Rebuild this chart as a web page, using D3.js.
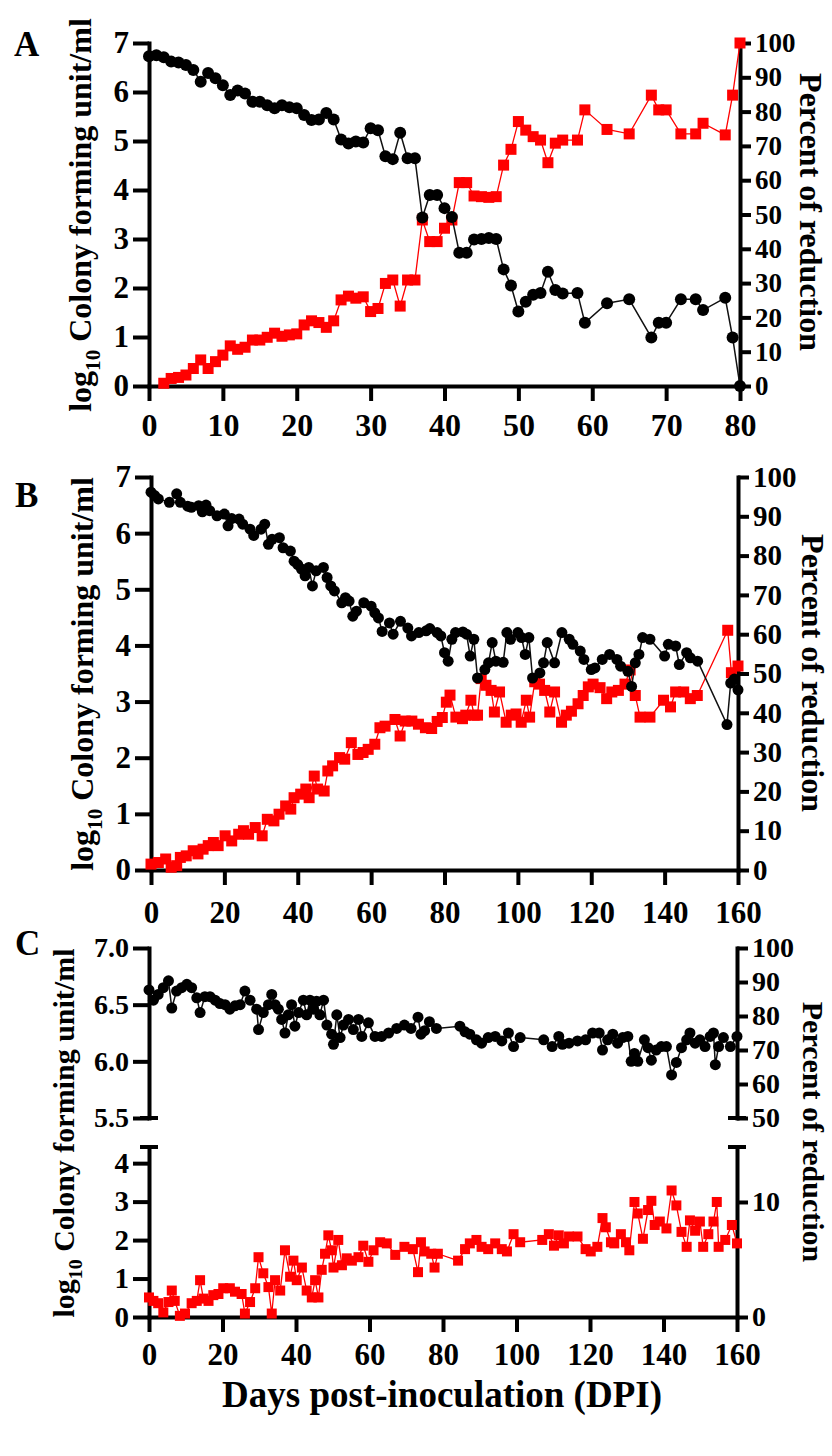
<!DOCTYPE html>
<html>
<head>
<meta charset="utf-8">
<script src="https://cdn.jsdelivr.net/npm/d3@7"></script>
<style>
  body { margin: 0; background: #fff; }
  svg text { font-family: "Liberation Serif", "Times New Roman", serif; font-weight: bold; fill: #000; }
</style>
</head>
<body>
<svg id="fig" width="832" height="1456"></svg>
<script>
// ---------- data: [day, value] ----------

// Panel A: log10 CFU/ml (left axis) and percent reduction (right axis)
const cfuA = [[0,6.73],[1,6.75],[2,6.71],[3,6.62],[4,6.60],[5,6.55],[6,6.45],[7,6.21],[8,6.39],[9,6.28],
  [10,6.14],[11,5.94],[12,6.03],[13,5.97],[14,5.80],[15,5.80],[16,5.73],[17,5.67],[18,5.73],[19,5.69],
  [20,5.67],[21,5.53],[22,5.43],[23,5.44],[24,5.57],[25,5.44],[26,5.03],[27,4.95],[28,4.99],[29,4.97],
  [30,5.26],[31,5.22],[32,4.69],[33,4.63],[34,5.17],[35,4.65],[36,4.65],[37,3.44],[38,3.90],[39,3.90],
  [40,3.63],[41,3.45],[42,2.72],[43,2.72],[44,2.99],[45,3.00],[46,3.02],[47,3.00],[48,2.38],[49,2.05],
  [50,1.52],[51,1.72],[52,1.86],[53,1.90],[54,2.33],[55,1.96],[56,1.89],[58,1.90],[59,1.29],[62,1.69],
  [65,1.77],[68,0.99],[69,1.29],[70,1.29],[72,1.77],[74,1.77],[75,1.55],[78,1.80],[79,0.99],[80,0]];

const redA = [[2,0.8],[3,2.2],[4,2.5],[5,3.2],[6,5.1],[7,7.6],[8,5.1],[9,7.1],
  [10,9.0],[11,11.7],[12,10.7],[13,11.3],[14,13.4],[15,13.4],[16,14.2],[17,15.4],[18,14.5],[19,14.9],
  [20,15.2],[21,17.8],[22,19.0],[23,18.5],[24,17.1],[25,19.0],[26,25.1],[27,26.2],[28,25.6],[29,26.0],
  [30,21.7],[31,22.6],[32,29.9],[33,30.9],[34,23.3],[35,30.9],[36,30.9],[37,48.4],[38,42.1],[39,42.1],
  [40,46.0],[41,48.4],[42,59.3],[43,59.3],[44,55.4],[45,55.2],[46,55.0],[47,55.2],[48,64.4],[49,69.0],
  [50,77.1],[51,74.6],[52,72.7],[53,71.7],[54,65.1],[55,70.8],[56,71.7],[58,71.7],[59,80.5],[62,74.8],
  [65,73.5],[68,84.8],[69,80.5],[70,80.5],[72,73.5],[74,73.5],[75,76.6],[78,73.2],[79,84.8],[80,100]];

// Panel B
const cfuB = [[0,6.73],[1,6.67],[2,6.61],[5,6.55],[7,6.70],[8,6.55],[10,6.48],[11,6.46],[13,6.49],[14,6.38],
  [15,6.50],[16,6.40],[18,6.31],[20,6.34],[21,6.13],[22,6.26],[24,6.25],[25,6.16],[27,6.07],[28,5.96],
  [30,6.07],[31,6.16],[32,5.80],[33,5.89],[35,5.92],[36,5.74],[38,5.68],[39,5.50],[40,5.44],[41,5.36],
  [42,5.24],[43,5.39],[44,5.06],[45,5.33],[47,5.39],[48,5.21],[49,5.06],[50,4.97],[52,4.76],[53,4.85],
  [54,4.79],[55,4.52],[56,4.61],[58,4.76],[60,4.70],[61,4.58],[62,4.49],[63,4.25],[65,4.40],[66,4.20],
  [68,4.43],[70,4.31],[71,4.17],[73,4.23],[75,4.26],[76,4.30],[78,4.23],[79,4.17],[80,3.87],[81,3.72],
  [82,4.11],[83,4.23],[85,4.24],[86,4.20],[87,3.81],[88,4.11],[89,3.42],[91,3.57],[92,3.69],[93,4.05],
  [94,3.72],[96,3.70],[97,4.23],[98,4.11],[100,4.23],[101,4.14],[102,3.84],[103,4.14],[104,3.42],[106,3.51],
  [107,3.69],[108,4.05],[110,3.69],[112,4.23],[114,4.11],[115,4.02],[117,3.90],[118,3.75],[120,3.57],[121,3.60],
  [123,3.75],[125,3.84],[127,3.75],[128,3.63],[130,3.54],[131,3.27],[132,3.69],[133,3.84],[134,4.14],[136,4.11],
  [140,3.81],[141,4.02],[143,3.99],[144,3.66],[146,3.87],[147,3.78],[149,3.72],[157,2.59],[158,3.33],[159,3.40],
  [160,3.21]];

const redB = [[0,1.5],[2,1.9],[4,2.8],[5.5,0.7],[7,1.1],[8,3.2],[9.6,3.6],[11.5,4.9],[12.8,4.1],[14.2,5.3],
  [15.6,6.2],[17,7.0],[18.3,6.2],[20.2,8.7],[22,7.4],[23.9,9.1],[25.2,10.0],[26.6,9.1],[28.4,10.8],[30.3,8.7],
  [31.7,12.9],[33.5,12.5],[34.9,14.2],[36.7,16.3],[38.1,15.5],[39,18.4],[40.8,19.3],[42.2,20.6],[43.1,18.4],[44.5,23.9],
  [45.4,20.6],[47.2,20.1],[48.2,25.2],[49.5,26.5],[51.4,28.6],[52.8,28.2],[54.6,32.4],[56.4,29.4],[57.8,29.9],[59.2,30.7],
  [61,32.0],[62.4,36.2],[63.8,36.6],[66.5,38.3],[67.9,34.1],[69.3,37.9],[71.1,37.9],[72.9,37.1],[74.8,36.2],[76.5,36.0],
  [78,37.8],[79.4,38.8],[80.5,42.7],[81.5,44.5],[83.1,38.9],[84.9,38.5],[85.8,39.4],[87.2,43.2],[88.1,39.4],[89,39.4],
  [90,48.7],[91.3,47.0],[92.7,45.7],[93.6,40.2],[95,45.3],[96.8,37.6],[98.2,39.4],[99.5,39.7],[100.9,37.6],[102.3,43.2],
  [103.2,38.9],[104.6,47.9],[105.9,47.3],[107.3,45.7],[108.7,40.2],[110,45.3],[111.9,37.6],[113.2,39.4],[114.6,40.4],[116.4,42.3],
  [117.8,44.4],[119.2,46.6],[120.5,47.3],[122.4,46.4],[124.2,43.6],[125.6,45.3],[127.4,45.7],[129.2,47.3],[130.6,50.9],[132,44.4],
  [133.3,38.9],[136,38.9],[139.7,43.2],[141.6,41.5],[143,45.3],[145.2,45.3],[147,43.6],[148.9,44.4],[157.2,61.0],[158.2,50.2],
  [160,51.9]];

// Panel C (broken axes)
const cfuC = [[0,6.63],[1.2,6.54],[2.5,6.59],[3.9,6.65],[5.3,6.71],[6.2,6.47],[7.5,6.62],[8.9,6.65],[10.3,6.68],[11.6,6.65],
  [13,6.56],[13.9,6.43],[15.2,6.57],[16.6,6.57],[18,6.54],[19.3,6.51],[20.7,6.50],[22,6.46],[23.4,6.49],[24.8,6.50],
  [26.1,6.62],[27.5,6.54],[29.3,6.46],[29.8,6.28],[31.1,6.43],[32.5,6.50],[33.4,6.59],[34.3,6.50],[35.2,6.46],[36.1,6.37],
  [37,6.25],[37.9,6.41],[38.8,6.50],[39.7,6.31],[40.7,6.43],[42,6.54],[42.9,6.41],[43.8,6.54],[44.7,6.46],[45.6,6.53],
  [46.5,6.41],[47.5,6.54],[48.4,6.32],[49.7,6.24],[50.2,6.15],[51.1,6.41],[52,6.21],[52.9,6.32],[54.3,6.37],[55.6,6.28],
  [57,6.37],[57.9,6.22],[59.7,6.34],[61.5,6.22],[63.3,6.22],[65.2,6.25],[67.4,6.29],[69.5,6.32],[71.3,6.29],[73.2,6.39],
  [74,6.24],[75,6.27],[76.3,6.35],[78.2,6.29],[84.6,6.31],[86,6.26],[87.3,6.24],[89.1,6.19],[90.5,6.16],[92.3,6.21],
  [94.2,6.22],[96,6.18],[97.8,6.25],[99.2,6.13],[101,6.21],[107.4,6.19],[109.7,6.13],[111.5,6.22],[112.5,6.15],[114.3,6.16],
  [116.6,6.18],[118.8,6.19],[120.7,6.25],[122.5,6.25],[123.4,6.10],[124.8,6.19],[126.2,6.24],[127.5,6.16],[128.9,6.21],[130.3,6.22],
  [131.2,6.00],[132.1,6.07],[133,6.00],[134.8,6.19],[135.8,6.12],[136.7,6.01],[138,6.10],[139.4,6.13],[140.8,6.13],[142.2,5.88],
  [143.5,5.99],[144.9,6.12],[146.3,6.19],[147.2,6.25],[148.6,6.16],[149.9,6.19],[151.3,6.13],[152.7,6.22],[153.6,6.25],[154.1,5.97],
  [155,6.13],[156.3,6.21],[158.2,6.13],[160,6.22]];

const redC = [[0,1.7],[1.2,1.4],[2.5,1.2],[3.9,0.4],[5.3,1.3],[6.2,2.3],[7,1.4],[8.4,0.1],[9.8,0.3],[11.6,1.2],
  [13,1.4],[13.9,3.2],[14.8,1.6],[16.2,1.4],[17.5,1.9],[18.9,2.0],[20.2,2.5],[22,2.5],[23.4,2.2],[25.2,2.0],
  [26.1,0.3],[27.5,1.3],[28.9,2.5],[29.8,5.2],[31.1,3.8],[32.5,2.6],[33.4,0.3],[34.3,3.2],[35.7,2.3],[37,5.8],
  [38.4,3.5],[39.3,4.9],[40.2,3.2],[41.6,4.3],[42.9,2.3],[44.3,1.7],[45.2,3.2],[46.1,1.7],[47,4.1],[47.9,5.5],
  [48.8,7.1],[49.7,5.8],[50.2,4.3],[51.5,6.7],[52.5,4.5],[53.8,5.1],[55.2,4.9],[57,5.2],[58.3,6.2],[59.7,4.8],
  [61.1,5.8],[62.9,6.5],[64.7,6.4],[67,5.4],[69.5,6.1],[71.8,5.9],[73.2,3.9],[74,6.5],[75,5.7],[76.8,5.5],
  [77.7,4.3],[78.6,5.5],[84.1,4.9],[86,5.9],[87.3,6.4],[89.1,6.7],[90.5,6.1],[92.3,5.9],[94.2,6.4],[96,5.9],
  [97.4,5.7],[99.2,7.2],[101,6.5],[107,6.7],[108.8,7.2],[110.2,6.2],[111.5,7.1],[112.9,6.4],[114.3,7.0],[116.6,7.0],
  [118.8,5.9],[120.2,5.7],[122,6.1],[123.4,8.6],[124.3,7.8],[125.7,6.5],[126.6,6.4],[128.4,7.2],[129.8,6.5],[130.7,5.8],
  [132.1,10.0],[133,9.0],[134.4,6.8],[135.8,9.3],[136.7,10.1],[137.6,8.0],[139,8.3],[140.8,7.7],[142.2,11.0],[143.5,9.7],
  [144.9,7.4],[146.3,6.1],[147.2,8.4],[148.6,7.5],[149.9,8.3],[150.8,6.1],[152.2,7.2],[153.6,8.3],[154.5,10.0],[155,6.1],
  [156.8,6.7],[158.6,8.0],[160,6.4]];

// tick values
const ticksA_x = [0,10,20,30,40,50,60,70,80];
const ticksBC_x = [0,20,40,60,80,100,120,140,160];
const ticksCfu = [0,1,2,3,4,5,6,7];
const ticksPct = [0,10,20,30,40,50,60,70,80,90,100];
const ticksC_upL = [5.5,6.0,6.5,7.0];
const ticksC_upR = [50,60,70,80,90,100];
const ticksC_lowL = [0,1,2,3,4];
const ticksC_lowR = [0,10];

const FONT = '"Liberation Serif", "Times New Roman", serif';
const RED = "#ff0000";
const intFmt = d3.format("d");

const svg = d3.select("#fig");

// restyle a d3 axis group like the GraphPad look (thick black lines, bold serif labels)
function styleAxis(g, size) {
    g.attr("font-family", FONT).attr("font-weight", "bold").attr("font-size", size);
    g.select(".domain").attr("stroke", "#000").attr("stroke-width", 4).attr("stroke-linecap", "square");
    g.selectAll(".tick line").attr("stroke", "#000").attr("stroke-width", 4);
    g.selectAll(".tick text").attr("fill", "#000");
}

function leftAxis(scale, x, ticks, size, fmt) {
    let ax = d3.axisLeft(scale).tickValues(ticks).tickSize(16).tickSizeOuter(0).tickPadding(4)
        .tickFormat(fmt || intFmt);
    svg.append("g").attr("transform", `translate(${x},0)`).call(ax).call(g => styleAxis(g, size));
}

function rightAxis(scale, x, ticks, size) {
    let ax = d3.axisRight(scale).tickValues(ticks).tickSize(11).tickSizeOuter(0).tickPadding(4)
        .tickFormat(intFmt);
    svg.append("g").attr("transform", `translate(${x},0)`).call(ax).call(g => styleAxis(g, size));
}

function bottomAxis(scale, y, ticks, size, pad) {
    let ax = d3.axisBottom(scale).tickValues(ticks).tickSize(15).tickSizeOuter(0).tickPadding(pad)
        .tickFormat(intFmt);
    svg.append("g").attr("transform", `translate(0,${y})`).call(ax).call(g => styleAxis(g, size));
}

// short bar across an axis end, used for the broken axes of panel C
function cap(x, y) {
    svg.append("line").attr("x1", x - 9).attr("x2", x + 9).attr("y1", y).attr("y2", y)
        .attr("stroke", "#000").attr("stroke-width", 4);
}

function drawRed(data, x, y, side) {
    let g = svg.append("g");
    g.append("path").datum(data)
        .attr("d", d3.line().x(p => x(p[0])).y(p => y(p[1])))
        .attr("fill", "none").attr("stroke", RED).attr("stroke-width", 1.3);
    g.selectAll("rect").data(data).enter().append("rect")
        .attr("x", p => x(p[0]) - side / 2).attr("y", p => y(p[1]) - side / 2)
        .attr("width", side).attr("height", side).attr("fill", RED);
}

function drawBlack(data, x, y, r) {
    let g = svg.append("g");
    g.append("path").datum(data)
        .attr("d", d3.line().x(p => x(p[0])).y(p => y(p[1])))
        .attr("fill", "none").attr("stroke", "#111").attr("stroke-width", 1.5);
    g.selectAll("circle").data(data).enter().append("circle")
        .attr("cx", p => x(p[0])).attr("cy", p => y(p[1])).attr("r", r).attr("fill", "#000");
}

function label(txt, x, y, size) {
    svg.append("text").attr("x", x).attr("y", y).attr("font-size", size).text(txt);
}

// rotated y titles; dir -90 reads bottom-up, 90 reads top-down
function yTitle(x, y, dir, size, withLog) {
    let t = svg.append("text").attr("transform", `translate(${x},${y}) rotate(${dir})`)
        .attr("text-anchor", "middle").attr("font-size", size);
    if (withLog) {
        t.append("tspan").text("log");
        t.append("tspan").attr("font-size", size * 0.66).attr("dy", size * 0.28).text("10");
        t.append("tspan").attr("dy", -size * 0.28).text(" Colony forming unit/ml");
    } else {
        t.text("Percent of reduction");
    }
}

// ---------- Panel A ----------
let xA = d3.scaleLinear().domain([0, 80]).range([149, 740]);
let yA = d3.scaleLinear().domain([0, 7]).range([386, 43]);
let yAr = d3.scaleLinear().domain([0, 100]).range([386, 43]);

bottomAxis(xA, 386, ticksA_x, 32, 12);
leftAxis(yA, 149, ticksCfu, 31);
rightAxis(yAr, 740, ticksPct, 27);
drawRed(redA, xA, yAr, 11);
drawBlack(cfuA, xA, yA, 6);
label("A", 14, 56, 35);
yTitle(91, 215, -90, 32, true);
yTitle(800, 212, 90, 32, false);

// ---------- Panel B ----------
let xB = d3.scaleLinear().domain([0, 160]).range([151, 738]);
let yB = d3.scaleLinear().domain([0, 7]).range([870, 477]);
let yBr = d3.scaleLinear().domain([0, 100]).range([870, 477]);

bottomAxis(xB, 870, ticksBC_x, 31, 16);
leftAxis(yB, 151, ticksCfu, 31);
rightAxis(yBr, 738, ticksPct, 29);
drawRed(redB, xB, yBr, 11);
drawBlack(cfuB, xB, yB, 5.5);
label("B", 15, 507, 35);
yTitle(93, 674, -90, 32, true);
yTitle(802, 673, 90, 32, false);

// ---------- Panel C ----------
let xC = d3.scaleLinear().domain([0, 160]).range([149, 737]);
let yCup = d3.scaleLinear().domain([5.5, 7.0]).range([1118, 948]);
let yCupR = d3.scaleLinear().domain([50, 100]).range([1118, 948]);
let yClow = d3.scaleLinear().domain([0, 4.42]).range([1317, 1147]);
let yClowR = d3.scaleLinear().domain([0, 14.78]).range([1317, 1147]);

bottomAxis(xC, 1317, ticksBC_x, 31, 11);
leftAxis(yCup, 149, ticksC_upL, 28, d3.format(".1f"));
leftAxis(yClow, 149, ticksC_lowL, 29);
rightAxis(yCupR, 737, ticksC_upR, 28);
rightAxis(yClowR, 737, ticksC_lowR, 28);
cap(149, yCup(5.5));
cap(149, 1147);
cap(737, yCupR(50));
cap(737, 1147);
drawRed(redC, xC, yClowR, 10);
drawBlack(cfuC, xC, yCup, 5.5);
label("C", 15, 955, 35);
yTitle(74, 1133, -90, 30, true);
yTitle(803, 1132, 90, 30, false);

svg.append("text").attr("x", 442).attr("y", 1407).attr("text-anchor", "middle")
    .attr("font-size", 37).text("Days post-inoculation (DPI)");
</script>
</body>
</html>
